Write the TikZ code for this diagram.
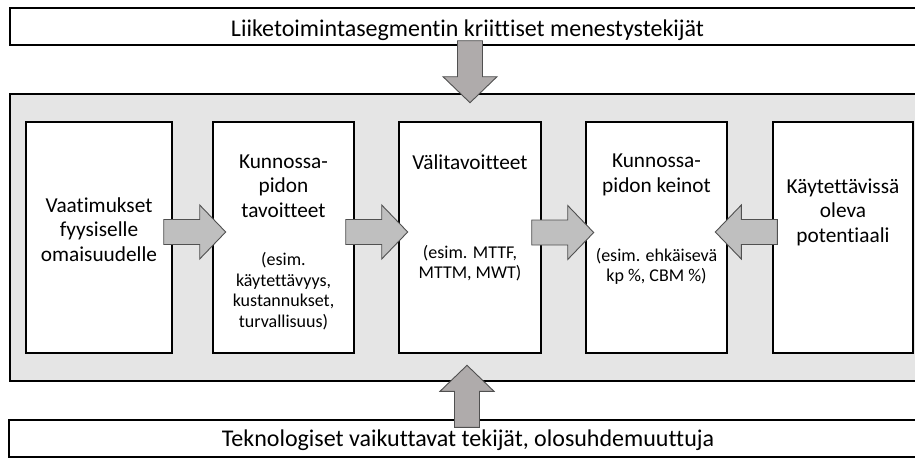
\documentclass[tikz,border=0pt]{standalone}
\usepackage{fontspec}
\setmainfont[Ligatures={NoCommon}]{Carlito}
\usetikzlibrary{calc}

\definecolor{panelgray}{RGB}{229,229,229}
\definecolor{arrowfill}{RGB}{191,191,191}
\definecolor{vertfill}{RGB}{175,171,171}
\definecolor{arrowline}{RGB}{80,80,80}

\tikzset{
  arrowcolor/.initial=arrowfill,
  band/.style={draw=black, line width=1.4pt, fill=white, inner sep=0pt},
  panel/.style={draw=black, line width=1.4pt, fill=panelgray, inner sep=0pt},
  stagebox/.style={draw=black, line width=1.4pt, fill=white, inner sep=0pt,
                   minimum height=231pt},
  headtext/.style={font=\fontsize{21.3}{24.5}\selectfont, align=center, inner sep=0pt},
  subtext/.style={font=\fontsize{18}{20.5}\selectfont, align=center, inner sep=0pt},
  bandtext/.style={font=\fontsize{24}{28}\selectfont, inner sep=0pt, anchor=base},
  blockarrow/.pic={
    \draw[draw=arrowline, line width=0.9pt, fill=\pgfkeysvalueof{/tikz/arrowcolor}, line join=miter]
      (0,-12.5) -- (36,-12.5) -- (36,-27) -- (62,0) -- (36,27) -- (36,12.5) -- (0,12.5) -- cycle;
  },
}

\begin{document}
\begin{tikzpicture}[x=1pt, y=-1pt]
\useasboundingbox (0,0) rectangle (915,458);
\clip (0,0) rectangle (915,458);

% outer bands and the grey panel
\node[band, minimum width=915pt, minimum height=37pt] (top) at (467.5,26.5) {};
\node[bandtext] (toptext) at (467.5,36) {Liiketoimintasegmentin kriittiset menestystekijät};

\node[panel, minimum width=915pt, minimum height=287pt] (panel) at (467.5,237.5) {};

\node[band, minimum width=916pt, minimum height=37pt] (bot) at (467,438.5) {};
\node[bandtext] (bottext) at (468,446.5) {Teknologiset vaikuttavat tekijät, olosuhdemuuttuja};

% the five stages
\node[stagebox, minimum width=146pt] (b1) at (99,237.5) {};
\node[stagebox, minimum width=141pt] (b2) at (283.5,237.5) {};
\node[stagebox, minimum width=142pt] (b3) at (470,237.5) {};
\node[stagebox, minimum width=141pt] (b4) at (656.5,237.5) {};
\node[stagebox, minimum width=140pt] (b5) at (843,237.5) {};

\node[headtext] (b1t) at (99,229.5) {Vaatimukset\\fyysiselle\\omaisuudelle};
\node[headtext] (b2t) at (283.5,186) {Kunnossa-\\pidon\\tavoitteet};
\node[subtext]  (b2s) at (283.5,291) {(esim.\\käytettävyys,\\kustannukset,\\turvallisuus)};
\node[headtext] (b3t) at (470,162) {Välitavoitteet};
\node[subtext]  (b3s) at (470,263) {(esim. MTTF,\\MTTM, MWT)};
\node[headtext] (b4t) at (656.5,175) {Kunnossa-\\pidon keinot};
\node[subtext]  (b4s) at (656.5,266.5) {(esim. ehkäisevä\\kp \%, CBM \%)};
\node[headtext] (b5t) at (843,212) {Käytettävissä\\oleva\\potentiaali};

% block arrows between the stages
\pic at ($(b1.east)+(-9,-5.5)$) {blockarrow};
\pic at ($(b2.east)+(-9,-5.5)$) {blockarrow};
\pic at ($(b3.east)+(-10,-5)$) {blockarrow};
\pic[rotate=180] at ($(b5.west)+(5,-5.5)$) {blockarrow};

% influences from above and below
\pic[rotate=-90, arrowcolor=vertfill] at ($(top.south)+(2.5,-5)$) {blockarrow};
\pic[rotate=90, arrowcolor=vertfill] at ($(bot.north)+(0,8)$) {blockarrow};
\end{tikzpicture}
\end{document}
